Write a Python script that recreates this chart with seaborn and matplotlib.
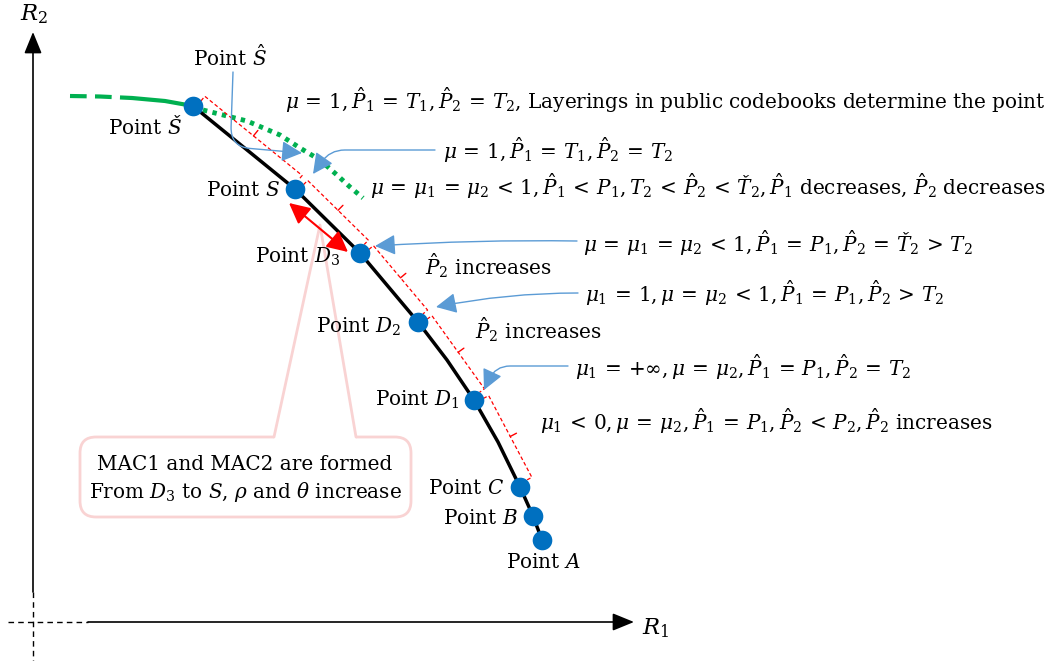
import numpy as np
import matplotlib
matplotlib.use("Agg")
import matplotlib.pyplot as plt
from matplotlib.patches import FancyBboxPatch, Polygon
import seaborn as sns

# ---------------- data (pixel space) ----------------
point_names = ["Š", "S", "D3", "D2", "D1", "C", "B", "A"]
point_x = [193, 295, 360, 418, 474, 520, 533, 542]
point_y = [106, 189, 253, 322, 400, 487, 516, 540]

# black boundary curve
curve_x = [193, 295, 360, 418, 447, 474, 498, 520, 533, 542]
curve_y = [106, 189, 253, 322, 360, 400, 442, 487, 516, 540]

# green curve: dashed part, solid part, dotted part
green_dash_x = [70, 100, 132]
green_dash_y = [96, 96.5, 98]
green_solid_x = [132, 165, 193]
green_solid_y = [98, 101, 106]
green_dot_x = [203, 247, 280, 300, 320, 337, 350, 363]
green_dot_y = [110, 121, 135, 148, 160, 175, 187, 198]

labels = ["Point $Š$", "Point $S$", "Point $D_3$", "Point $D_2$",
          "Point $D_1$", "Point $C$", "Point $B$", "Point $A$"]
label_x = [182, 280, 340, 401, 459, 504, 518, 543]
label_y = [127, 191, 257, 327, 400, 488, 519, 563]
label_ha = ["right", "right", "right", "right", "right", "right", "right", "center"]

ann_texts = [
    r"$\mu=1, \hat{P}_1=T_1, \hat{P}_2=T_2$, Layerings in public codebooks determine the point",
    r"$\mu=1, \hat{P}_1=T_1, \hat{P}_2=T_2$",
    r"$\mu=\mu_1=\mu_2<1, \hat{P}_1<P_1, T_2<\hat{P}_2<Ť_2, \hat{P}_1$ decreases, $\hat{P}_2$ decreases",
    r"$\mu=\mu_1=\mu_2<1, \hat{P}_1=P_1, \hat{P}_2=Ť_2>T_2$",
    r"$\hat{P}_2$ increases",
    r"$\mu_1=1, \mu=\mu_2<1, \hat{P}_1=P_1, \hat{P}_2>T_2$",
    r"$\hat{P}_2$ increases",
    r"$\mu_1={+}\infty, \mu=\mu_2, \hat{P}_1=P_1, \hat{P}_2=T_2$",
    r"$\mu_1<0, \mu=\mu_2, \hat{P}_1=P_1, \hat{P}_2<P_2, \hat{P}_2$ increases",
]
ann_x = [285, 443, 370, 583, 425, 585, 475, 575, 540]
ann_y = [100, 150, 186, 243, 266, 293, 330, 367, 421]

box_lines = ["MAC1 and MAC2 are formed", r"From $D_3$ to $S$, $\rho$ and $\theta$ increase"]


def widen(s):
    # Cambria-Math-like wide spacing around relations
    for r in ["=", "<", ">"]:
        s = s.replace(r, r"\," + r + r"\,")
    return s


# ---------------- style ----------------
sns.set_theme(style="white")
plt.rcParams["font.family"] = ["DejaVu Serif"]
plt.rcParams["mathtext.fontset"] = "dejavuserif"
plt.rcParams["text.color"] = "black"
FS = 14.4

fig = plt.figure(figsize=(10.49, 6.61), dpi=100)
ax = fig.add_axes([0, 0, 1, 1])
ax.set_xlim(0, 1049)
ax.set_ylim(661, 0)
ax.axis("off")

BLUE = "#0070C0"
GREEN = "#00B050"
LBLUE = "#5B9BD5"
PINK = "#F9D3D3"

# ---------------- axes ----------------
ax.plot([8, 88], [622, 622], color="black", lw=1, ls=(0, (4, 3)))
ax.plot([33, 33], [592, 661], color="black", lw=1, ls=(0, (4, 3)))
ax.annotate("", xy=(634, 622), xytext=(88, 622),
            arrowprops=dict(arrowstyle="-|>,head_length=1.1,head_width=0.45", color="black",
                            lw=1.2, shrinkA=0, shrinkB=0, mutation_scale=12))
ax.annotate("", xy=(33, 32), xytext=(33, 592),
            arrowprops=dict(arrowstyle="-|>,head_length=1.1,head_width=0.45", color="black",
                            lw=1.2, shrinkA=0, shrinkB=0, mutation_scale=12))
ax.text(642, 628, r"$R_1$", fontsize=FS + 2, ha="left", va="center")
ax.text(34, 14, r"$R_2$", fontsize=FS + 2, ha="center", va="center")

# ---------------- callout box ----------------
box = FancyBboxPatch((80, 437), 331, 80, boxstyle="round,pad=0,rounding_size=16",
                     facecolor="white", edgecolor=PINK, lw=2, zorder=1)
ax.add_patch(box)
ax.add_patch(Polygon([(274, 439), (320, 225), (356, 439)], closed=True,
                     facecolor="white", edgecolor="none", zorder=1.5))
ax.plot([274, 320, 356], [437, 225, 437], color=PINK, lw=2, zorder=1.6)
ax.text(245, 465, box_lines[0], fontsize=FS, ha="center", va="center", zorder=3)
ax.text(245, 492, box_lines[1], fontsize=FS, ha="center", va="center", zorder=3)

# ---------------- curves ----------------
sns.lineplot(x=green_dash_x, y=green_dash_y, sort=False, estimator=None, ax=ax,
             color=GREEN, lw=3, linestyle=(0, (4, 2)), zorder=2)
sns.lineplot(x=green_solid_x, y=green_solid_y, sort=False, estimator=None, ax=ax,
             color=GREEN, lw=3, zorder=2)
sns.lineplot(x=green_dot_x, y=green_dot_y, sort=False, estimator=None, ax=ax,
             color=GREEN, lw=3.5, linestyle=(0, (0.9, 1.1)), zorder=2)
sns.lineplot(x=curve_x, y=curve_y, sort=False, estimator=None, ax=ax,
             color="black", lw=2.5, zorder=3)

# ---------------- red brackets ----------------
def bracket(p0, p1, off=15, gap=3, cap=6, tick=7):
    p0 = np.asarray(p0, float); p1 = np.asarray(p1, float)
    d = (p1 - p0) / np.linalg.norm(p1 - p0)
    n = np.array([d[1], -d[0]])
    a = p0 + d * gap + n * off
    b = p1 - d * gap + n * off
    a0 = p0 + d * gap + n * (off - cap)
    b0 = p1 - d * gap + n * (off - cap)
    m = (a + b) / 2
    m1 = m + n * tick
    kw = dict(color="red", lw=0.9, ls=(0, (3, 2)), zorder=2.5)
    ax.plot([a0[0], a[0], b[0], b0[0]], [a0[1], a[1], b[1], b0[1]], **kw)
    ax.plot([m[0], m1[0]], [m[1], m1[1]], color="red", lw=1, zorder=2.5)

for i in range(5):
    bracket((point_x[i], point_y[i]), (point_x[i + 1], point_y[i + 1]))

# ---------------- points ----------------
sns.scatterplot(x=point_x, y=point_y, ax=ax, s=200, color=BLUE, edgecolor=BLUE,
                linewidth=0, zorder=5)

# point labels
for t, x, y, ha in zip(labels, label_x, label_y, label_ha):
    ax.text(x, y, t, fontsize=FS, ha=ha, va="center", zorder=6)
ax.text(230, 57, "Point $\\hat{S}$", fontsize=FS, ha="center", va="center", zorder=6)

# annotation texts
for t, x, y in zip(ann_texts, ann_x, ann_y):
    ax.text(x, y, widen(t), fontsize=FS, ha="left", va="center", zorder=6)

# ---------------- blue arrows ----------------
def barrow(xy, xytext, cs):
    ax.annotate("", xy=xy, xytext=xytext,
                arrowprops=dict(arrowstyle="-|>,head_length=0.9,head_width=0.45",
                                color=LBLUE, lw=1, shrinkA=0, shrinkB=0,
                                mutation_scale=14, connectionstyle=cs), zorder=4)

barrow((302, 153), (233, 72), "angle,angleA=-92,angleB=175,rad=20")
barrow((313, 174), (435, 150), "angle,angleA=180,angleB=55,rad=15")
barrow((375, 246), (577, 241), "arc3,rad=0.02")
barrow((436, 307), (578, 293), "arc3,rad=0.05")
barrow((484, 390), (568, 366), "angle,angleA=180,angleB=65,rad=15")

# ---------------- red double arrow ----------------
ax.annotate("", xy=(348, 252), xytext=(289, 203),
            arrowprops=dict(arrowstyle="<|-|>,head_length=0.9,head_width=0.45", color="red",
                            lw=1.5, shrinkA=0, shrinkB=0, mutation_scale=14), zorder=4)

fig.savefig("out.png", dpi=100)
